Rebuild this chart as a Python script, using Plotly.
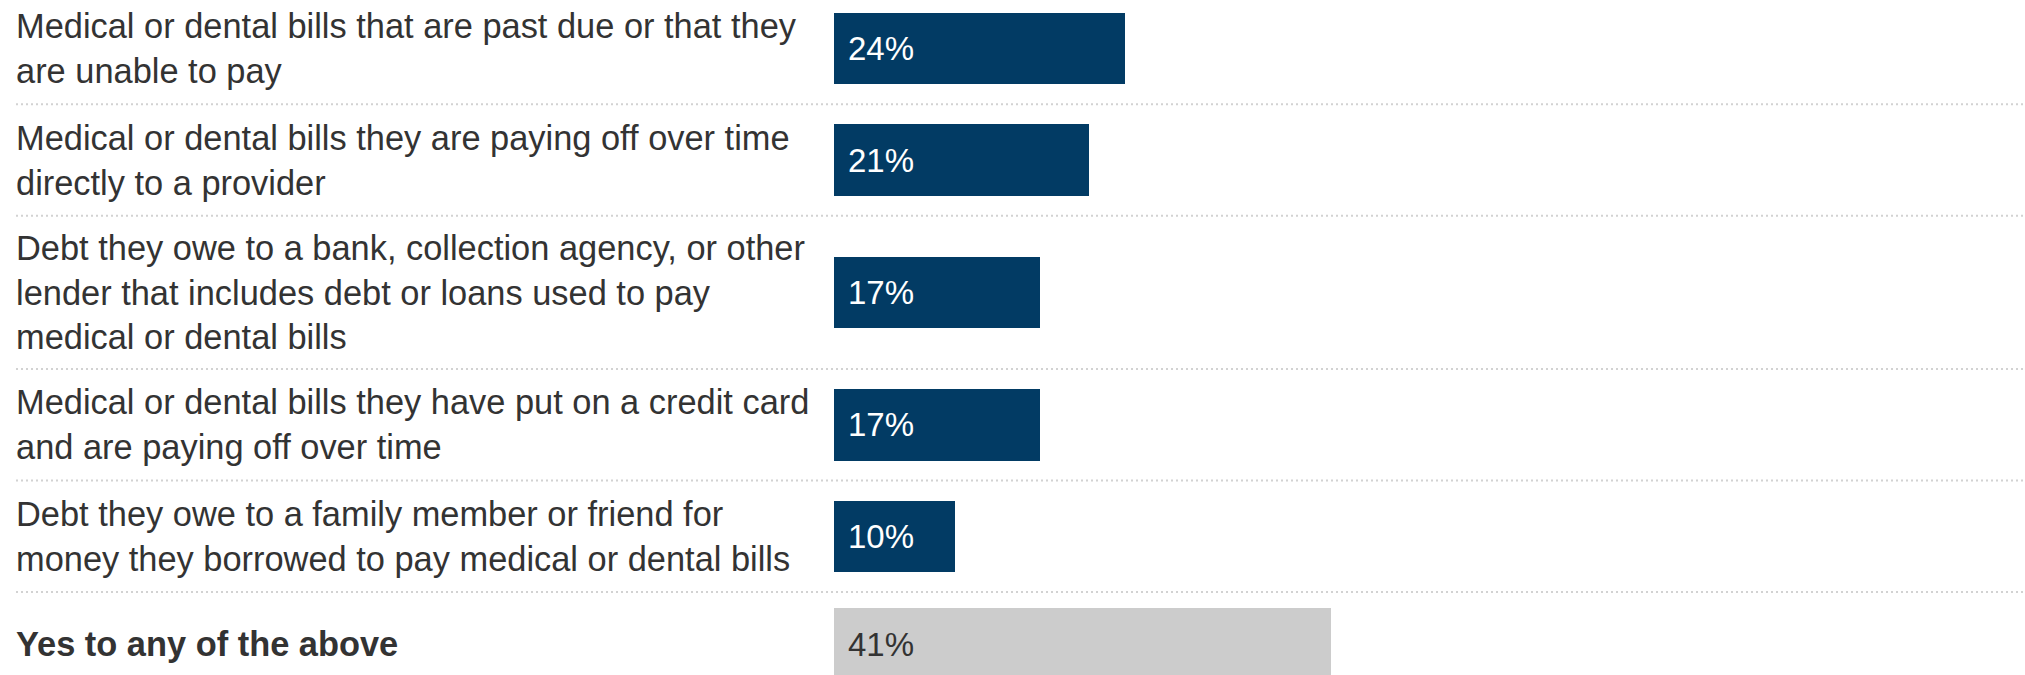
import plotly.graph_objects as go

# ---- data ----
labels = [
    "Medical or dental bills that are past due or that they<br>are unable to pay",
    "Medical or dental bills they are paying off over time<br>directly to a provider",
    "Debt they owe to a bank, collection agency, or other<br>lender that includes debt or loans used to pay<br>medical or dental bills",
    "Medical or dental bills they have put on a credit card<br>and are paying off over time",
    "Debt they owe to a family member or friend for<br>money they borrowed to pay medical or dental bills",
    "<b>Yes to any of the above</b>",
]
values = [24, 21, 17, 17, 10, 41]
is_total = [False, False, False, False, False, True]

# ---- style / layout constants ----
W, H = 2025, 675
NAVY = "#023b64"
GRAY_BAR = "#cccccc"
TEXT = "#333333"
FONT = "Liberation Sans, Arial, Helvetica, sans-serif"
LINE_PX = 41.8      # extra row height per label line
PAD_PX = 27.9       # row padding
MIN_ROW_PX = 104    # minimum row height
START_PX = -7.2     # top of first row (partially cropped)
BAR_PX = 71.5       # bar thickness
ZERO_PX = 833.7     # x pixel of 0%
PX_PER_PCT = 12.14
LABEL_X_PX = 14
GRID_X0_PX = 16

# row geometry computed from label line counts (y axis in pixel units)
line_counts = [l.count("<br>") + 1 for l in labels]
row_tops, row_centers = [], []
y = START_PX
for n in line_counts:
    h = max(n * LINE_PX + PAD_PX, MIN_ROW_PX)
    row_tops.append(y)
    row_centers.append(y + h / 2)
    y += h

colors = [GRAY_BAR if t else NAVY for t in is_total]

fig = go.Figure()
fig.add_trace(go.Bar(
    x=values, y=row_centers, orientation="h",
    width=[BAR_PX] * len(values),
    marker=dict(color=colors, line=dict(width=0)),
    hoverinfo="skip",
))

annotations = []
for lab, yc in zip(labels, row_centers):
    annotations.append(dict(
        x=LABEL_X_PX / W, xref="paper", y=yc, yref="y",
        text=lab, showarrow=False, xanchor="left", yanchor="middle",
        align="left", font=dict(family=FONT, size=34.4, color=TEXT),
    ))
for v, yc, t in zip(values, row_centers, is_total):
    annotations.append(dict(
        x=0, xref="x", y=yc, yref="y", xshift=12,
        text=f"{v}%", showarrow=False, xanchor="left", yanchor="middle",
        font=dict(family=FONT, size=33, color=TEXT if t else "#ffffff"),
    ))

shapes = []
for yt in row_tops[1:]:
    shapes.append(dict(
        type="line", xref="paper", x0=GRID_X0_PX / W, x1=1,
        yref="y", y0=yt, y1=yt,
        line=dict(color="#d2d2d2", width=2, dash="2px,3px"),
        layer="below",
    ))

fig.update_layout(
    width=W, height=H,
    margin=dict(l=0, r=0, t=0, b=0),
    paper_bgcolor="white", plot_bgcolor="white",
    showlegend=False,
    annotations=annotations, shapes=shapes,
    xaxis=dict(range=[-ZERO_PX / PX_PER_PCT, (W - ZERO_PX) / PX_PER_PCT],
               visible=False, fixedrange=True),
    yaxis=dict(range=[H, 0], visible=False, fixedrange=True),
    bargap=0,
)

fig.write_html("out.html", config={"displayModeBar": False})
